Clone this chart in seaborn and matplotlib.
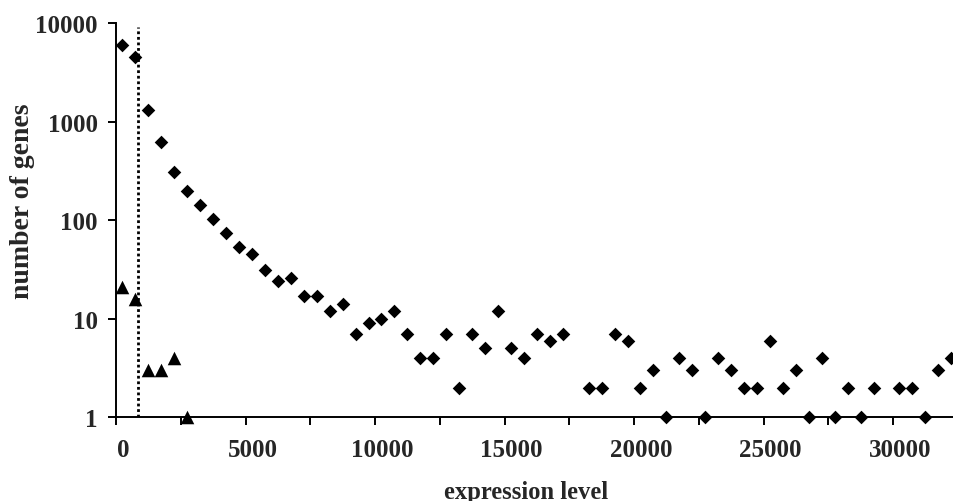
import pandas as pd
import seaborn as sns
import matplotlib.pyplot as plt
import matplotlib.transforms as mtransforms

# bin centres and gene counts (empty bins left out)
all_x = [250, 750, 1250, 1750, 2250, 2750, 3250, 3750, 4250, 4750,
         5250, 5750, 6250, 6750, 7250, 7750, 8250, 8750, 9250, 9750,
         10250, 10750, 11250, 11750, 12250, 12750, 13250, 13750, 14250, 14750,
         15250, 15750, 16250, 16750, 17250, 18250, 18750, 19250, 19750,
         20250, 20750, 21250, 21750, 22250, 22750, 23250, 23750, 24250, 24750,
         25250, 25750, 26250, 26750, 27250, 27750, 28250, 28750, 29250,
         30250, 30750, 31250, 31750, 32250]
all_n = [6000, 4500, 1320, 620, 307, 200, 144, 103, 74, 54,
         45, 31, 24, 26, 17, 17, 12, 14, 7, 9,
         10, 12, 7, 4, 4, 7, 2, 7, 5, 12,
         5, 4, 7, 6, 7, 2, 2, 7, 6,
         2, 3, 1, 4, 3, 1, 4, 3, 2, 2,
         6, 2, 3, 1, 4, 1, 2, 1, 2,
         2, 2, 1, 3, 4]

sub_x = [250, 750, 1250, 1750, 2250, 2750]
sub_n = [21, 16, 3, 3, 4, 1]

cutoff = 850

x_ticks = [0, 5000, 10000, 15000, 20000, 25000, 30000]
x_minor = [2500, 7500, 12500, 17500, 22500, 27500]
y_ticks = [1, 10, 100, 1000, 10000]

df = pd.DataFrame({
    "expression level": all_x + sub_x,
    "number of genes": all_n + sub_n,
    "set": ["all"] * len(all_x) + ["sub"] * len(sub_x),
})

sns.set_style("ticks")
plt.rcParams["font.family"] = ["Liberation Serif", "DejaVu Serif"]
plt.rcParams["font.weight"] = "bold"

fig = plt.figure(figsize=(9.54, 5.02), dpi=100)
ax = fig.add_axes([0.1216, 0.1667, 0.8784, 0.7849])

sns.scatterplot(data=df[df["set"] == "all"], x="expression level", y="number of genes",
                marker="D", s=48, color="black", edgecolor="black", linewidth=0,
                clip_on=False, ax=ax, zorder=3)
sns.scatterplot(data=df[df["set"] == "sub"], x="expression level", y="number of genes",
                marker="^", s=95, color="black", edgecolor="black", linewidth=0,
                clip_on=False, ax=ax, zorder=3)

ax.set_yscale("log")
ax.set_ylim(1, 10000)
ax.set_xlim(0, 32355)
ax.axvline(cutoff, ymin=0, ymax=0.99, color="black", lw=2, linestyle=(0, (1, 1)), zorder=2)

ax.set_xticks(x_ticks)
ax.set_xticks(x_minor, minor=True)
ax.set_xticklabels([str(t) for t in x_ticks], fontsize=18, fontweight="bold")
ax.set_yticks(y_ticks)
ax.set_yticklabels([str(t) for t in y_ticks], fontsize=18, fontweight="bold")
ax.yaxis.set_minor_locator(plt.NullLocator())
ax.tick_params(axis="both", which="both", length=6, width=1.4, color="black", direction="out")
ax.tick_params(axis="x", pad=9)
ax.tick_params(axis="y", pad=7)

# tick labels on the x axis sit slightly right of their ticks
shift = mtransforms.ScaledTranslation(7 / 100, 0, fig.dpi_scale_trans)
for lab in ax.get_xticklabels():
    lab.set_transform(lab.get_transform() + shift)

for side in ["top", "right"]:
    ax.spines[side].set_visible(False)
for side in ["left", "bottom"]:
    ax.spines[side].set_linewidth(1.4)
    ax.spines[side].set_color("black")

ax.set_xlabel("expression level", fontsize=17.7, fontweight="bold")
ax.set_ylabel("number of genes", fontsize=20, fontweight="bold")
ax.xaxis.set_label_coords(0.489, -0.158)
ax.yaxis.set_label_coords(-0.097, 0.55)

fig.savefig("out.png", dpi=100)
